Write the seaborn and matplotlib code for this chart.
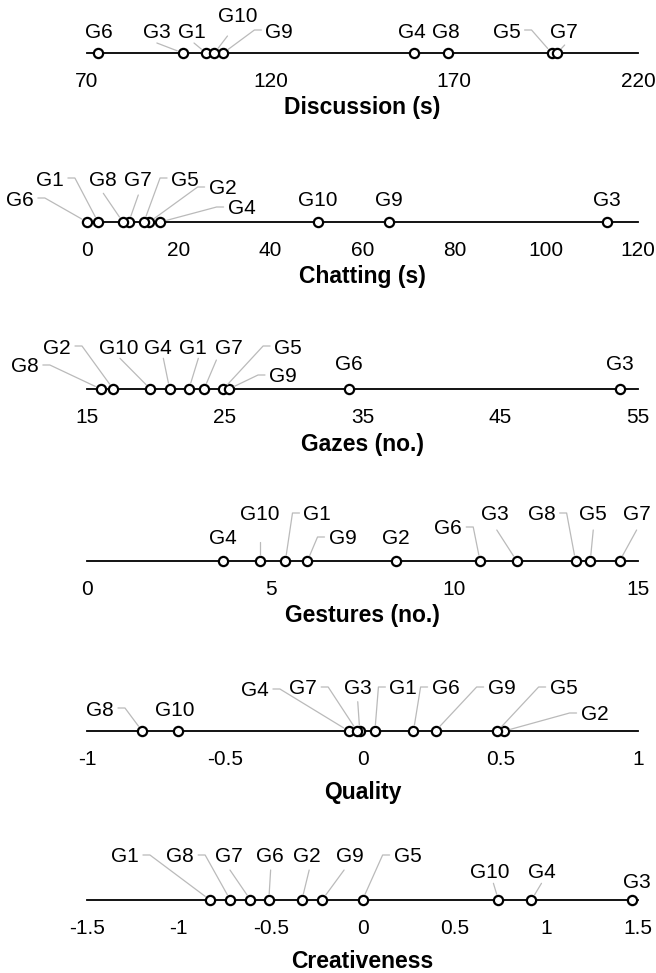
import numpy as np
import matplotlib
matplotlib.use("Agg")
import matplotlib.pyplot as plt
import matplotlib.transforms as mtransforms
from matplotlib.lines import Line2D
import seaborn as sns

# ==========================================================
# Data
# ==========================================================

GROUPS = ["G1", "G2", "G3", "G4", "G5", "G6", "G7", "G8", "G9", "G10"]

DISCUSSION = [102.4, np.nan, 96.1, 159.1, 196.5, 73.1, 198.0, 168.3, 107.1, 104.7]
CHATTING = [2.4, 13.6, 113.2, 16.0, 12.4, 0.0, 9.1, 7.8, 65.7, 50.2]
GAZES = [22.4, 16.9, 53.7, 21.0, 24.9, 34.0, 23.5, 16.0, 25.3, 19.6]
GESTURES = [5.4, 8.4, 11.7, 3.7, 13.7, 10.7, 14.5, 13.3, 6.0, 4.7]
QUALITY = [0.045, 0.515, -0.01, -0.05, 0.49, 0.185, -0.02, -0.80, 0.265, -0.67]
CREATIVENESS = [-0.83, -0.33, 1.47, 0.92, 0.0, -0.51, -0.61, -0.72, -0.22, 0.74]

TITLES = ["Discussion (s)", "Chatting (s)", "Gazes (no.)",
          "Gestures (no.)", "Quality", "Creativeness"]

TICKS = [
    [70, 120, 170, 220],
    [0, 20, 40, 60, 80, 100, 120],
    [15, 25, 35, 45, 55],
    [0, 5, 10, 15],
    [-1, -0.5, 0, 0.5, 1],
    [-1.5, -1, -0.5, 0, 0.5, 1, 1.5],
]
TICK_LABELS = [
    ["70", "120", "170", "220"],
    ["0", "20", "40", "60", "80", "100", "120"],
    ["15", "25", "35", "45", "55"],
    ["0", "5", "10", "15"],
    ["-1", "-0.5", "0", "0.5", "1"],
    ["-1.5", "-1", "-0.5", "0", "0.5", "1", "1.5"],
]

# ==========================================================
# Layout (label offsets in pixels from the point, y up)
# leader: None, "L" / "R" dash beside text, or (sx, sy) start
# ==========================================================

LAYOUT = [
    {"G6": (0, 23, None), "G3": (-26, 23, (-26, 10)), "G1": (-14, 23, (-12, 10)),
     "G10": (23, 38, (13, 17)), "G9": (56, 23, "L"), "G4": (-2, 23, None),
     "G8": (-2, 23, None), "G5": (-45, 23, "R"), "G7": (7, 23, (7.5, 8))},
    {"G6": (-67, 24, "R"), "G1": (-48, 44, "R"), "G8": (-19.5, 44, (-19.5, 28.7)),
     "G7": (9.5, 44, (9.5, 27)), "G5": (41, 44, "L"), "G2": (73, 35, "L"),
     "G4": (81, 15, "L"), "G10": (0, 24, None), "G9": (0, 24, None),
     "G3": (0, 24, None)},
    {"G8": (-75.8, 24, "R"), "G2": (-56, 43, "R"), "G10": (-32, 43, (-30.4, 30.7)),
     "G4": (-11.3, 43, (-6.3, 30.7)), "G1": (4.4, 43, (9.4, 30.7)),
     "G7": (25, 43, (12.3, 29)), "G5": (64.6, 43, "L"), "G9": (54, 14, "L"),
     "G6": (0, 26, None), "G3": (0, 26, None)},
    {"G4": (0, 24, None), "G10": (0, 48, (0, 19.3)), "G1": (32, 48, "L"),
     "G9": (35, 24, "L"), "G2": (0, 24, None), "G6": (-31.7, 34, "R"),
     "G3": (-21.7, 48, (-20, 31)), "G8": (-33.8, 48, "R"), "G5": (3, 48, (3, 31)),
     "G7": (17, 48, (17, 31))},
    {"G8": (-42, 23, "R"), "G10": (-3, 23, None), "G4": (-93.7, 42, "R"),
     "G7": (-53.7, 44, "R"), "G3": (-1.4, 44, (-2, 29.3)), "G1": (28.4, 44, "L"),
     "G6": (32, 44, "L"), "G9": (66, 44, "L"), "G5": (66, 44, "L"),
     "G2": (90, 18, "L")},
    {"G1": (-85, 45, "R"), "G8": (-50, 45, "R"), "G7": (-22, 45, (-20.5, 30)),
     "G6": (1, 45, (1.8, 30)), "G2": (4.7, 45, (7.3, 30)), "G9": (28, 45, (22, 30)),
     "G5": (45, 45, "L"), "G10": (-9, 30, (-5, 16.7)), "G4": (10, 30, (10, 16.7)),
     "G3": (4, 20, None)},
]

FIG_W, FIG_H = 656, 973
AX_LEFT, AX_RIGHT = 87, 638
LINE_Y = [53, 222, 389, 561, 731, 900]
LABEL_PAD = [3, 3, 4, 3, 8.5, 8.5]

LABEL_SIZE = 15
CAP_HALF = 7.5
GAP, DASH = 4, 7
MARKER_R = 6
LEADER_COLOR = "#bababa"


def DrawPanel(fig, row, values):

    ax = fig.add_axes([AX_LEFT / FIG_W, 1 - LINE_Y[row] / FIG_H,
                       (AX_RIGHT - AX_LEFT) / FIG_W, 0.05])

    sns.scatterplot(x=values, y=np.zeros(len(values)), ax=ax, s=44,
                    color="white", edgecolor="black", linewidth=1.6,
                    zorder=3, clip_on=False, legend=False)

    ax.set_xlim(TICKS[row][0], TICKS[row][-1])
    ax.set_ylim(0, 1)
    ax.set_yticks([])
    ax.set_ylabel("")
    for side in ["left", "right", "top"]:
        ax.spines[side].set_visible(False)
    ax.spines["bottom"].set_linewidth(1.3)
    ax.spines["bottom"].set_color("black")

    ax.set_xticks(TICKS[row])
    ax.set_xticklabels(TICK_LABELS[row], fontsize=15, color="black")
    ax.tick_params(axis="x", length=0, pad=14)
    ax.set_xlabel(TITLES[row], fontsize=16.5, fontweight="bold",
                  labelpad=LABEL_PAD[row], color="black")

    items = []
    for name, v in zip(GROUPS, values):
        if np.isnan(v) or name not in LAYOUT[row]:
            continue
        dx, dy, leader = LAYOUT[row][name]
        t = ax.annotate(name, xy=(v, 0), xytext=(dx, dy - CAP_HALF),
                        textcoords="offset pixels", ha="center", va="baseline",
                        fontsize=LABEL_SIZE, color="black", annotation_clip=False)
        items.append((ax, v, t, dy, leader))
    return items


def DrawLeaders(fig, items):

    fig.canvas.draw()
    renderer = fig.canvas.get_renderer()

    for ax, v, t, dy, leader in items:
        if leader is None:
            continue
        px, py = ax.transData.transform((v, 0))
        bb = t.get_window_extent(renderer)
        if leader == "L":
            far = (bb.x0 - GAP - DASH, py + dy)
            near = (bb.x0 - GAP, py + dy)
        elif leader == "R":
            far = (bb.x1 + GAP + DASH, py + dy)
            near = (bb.x1 + GAP, py + dy)
        else:
            far = (px + leader[0], py + leader[1])
            near = None
        d = np.hypot(far[0] - px, far[1] - py)
        start = (px + (far[0] - px) * MARKER_R / d, py + (far[1] - py) * MARKER_R / d)
        xs = [start[0], far[0]]
        ys = [start[1], far[1]]
        if near is not None:
            xs.append(near[0])
            ys.append(near[1])
        line = Line2D(xs, ys, transform=mtransforms.IdentityTransform(),
                      color=LEADER_COLOR, linewidth=0.9, zorder=2)
        fig.add_artist(line)


def main():

    sns.set_theme(style="white")
    plt.rcParams["font.family"] = ["Liberation Sans", "DejaVu Sans"]
    plt.rcParams["axes.unicode_minus"] = False
    plt.rcParams["text.color"] = "black"

    fig = plt.figure(figsize=(FIG_W / 100, FIG_H / 100), dpi=100)
    fig.patch.set_facecolor("white")

    series = [DISCUSSION, CHATTING, GAZES, GESTURES, QUALITY, CREATIVENESS]
    items = []
    for row, values in enumerate(series):
        items += DrawPanel(fig, row, np.array(values, dtype=float))

    DrawLeaders(fig, items)

    fig.savefig("out.png", dpi=100)
    plt.close(fig)


if __name__ == "__main__":
    main()
